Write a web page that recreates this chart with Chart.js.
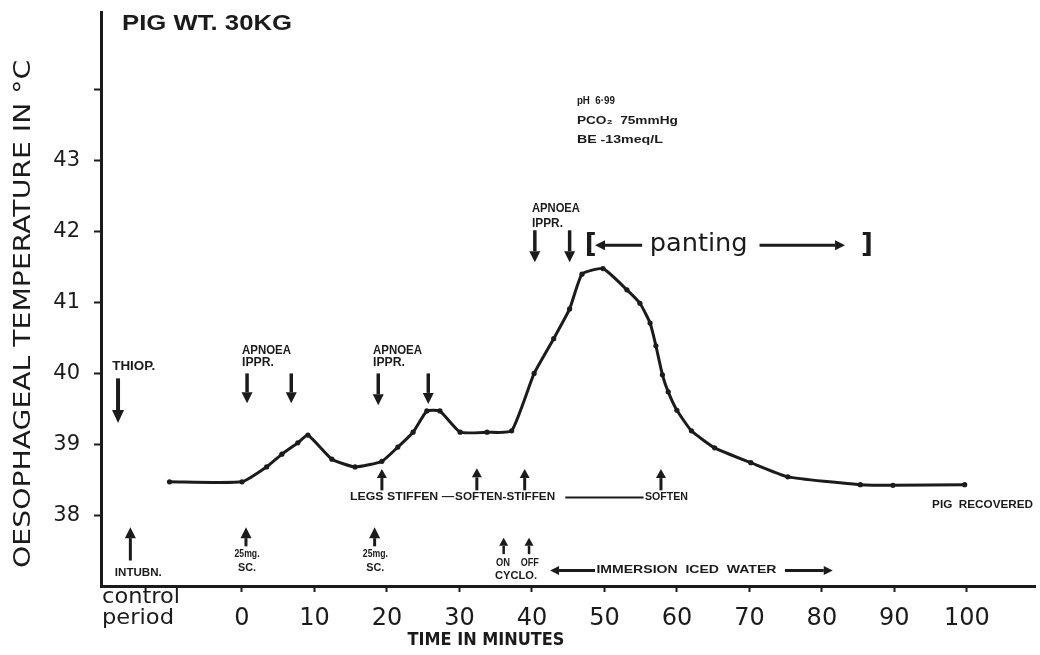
<!DOCTYPE html>
<html>
<head>
<meta charset="utf-8">
<script src="https://cdn.jsdelivr.net/npm/chart.js@4.4.1/dist/chart.umd.min.js"></script>
<style>
  html, body { margin: 0; padding: 0; background: #ffffff; }
  #wrap { width: 1040px; height: 655px; }
</style>
</head>
<body>
<div id="wrap"><canvas id="chart" width="1040" height="655"></canvas></div>
<script>
// Oesophageal temperature of a 30 kg pig, minutes after the first dose
const minutes = [-10, 0, 3.4, 5.5, 7.7, 9.1, 12.4, 15.6, 19.3, 21.5, 23.6, 25.5, 27.3, 30.1, 33.8, 37.2,
                 40.3, 43.0, 45.2, 46.9, 49.8, 53.1, 54.9, 56.3, 57.1, 58.0, 58.8, 60.0, 62.0, 65.2,
                 70.2, 75.3, 85.3, 89.8, 99.7];
const oesoTempC = [38.47, 38.47, 38.68, 38.86, 39.02, 39.13, 38.79, 38.68, 38.76, 38.96, 39.17, 39.47, 39.47, 39.17, 39.17, 39.19,
                   40.00, 40.49, 40.91, 41.40, 41.48, 41.18, 40.99, 40.71, 40.39, 39.98, 39.74, 39.48, 39.19, 38.95,
                   38.74, 38.54, 38.43, 38.42, 38.43];
const xTickValues = [0, 10, 20, 30, 40, 50, 60, 70, 80, 90, 100];
const yTickValues = [38, 39, 40, 41, 42, 43, 44];
const yTickLabels = ['38', '39', '40', '41', '42', '43', ''];

const INK = '#1b1b1b';

function drawLabel(ctx, str, x, y, o) {
  const size = o.size || 10;
  const weight = o.weight || 'bold';
  const family = o.family || 'Liberation Sans';
  ctx.font = weight + ' ' + size + 'px "' + family + '"';
  const natural = ctx.measureText(str).width;
  const sx = o.width ? o.width / natural : 1;
  ctx.save();
  ctx.translate(x, y);
  if (o.rotate) ctx.rotate(o.rotate);
  ctx.scale(sx, 1);
  ctx.textBaseline = 'middle';
  ctx.textAlign = o.align || 'left';
  ctx.fillText(str, 0, 0);
  ctx.restore();
}

function drawArrow(ctx, x1, y1, x2, y2, lw, headLen, headHalf) {
  const a = Math.atan2(y2 - y1, x2 - x1);
  const bx = x2 - headLen * Math.cos(a), by = y2 - headLen * Math.sin(a);
  ctx.lineWidth = lw;
  ctx.lineCap = 'butt';
  ctx.beginPath(); ctx.moveTo(x1, y1); ctx.lineTo(bx, by); ctx.stroke();
  ctx.beginPath();
  ctx.moveTo(x2, y2);
  ctx.lineTo(bx + headHalf * Math.sin(a), by - headHalf * Math.cos(a));
  ctx.lineTo(bx - headHalf * Math.sin(a), by + headHalf * Math.cos(a));
  ctx.closePath(); ctx.fill();
}

// Text notes placed in (minutes, °C) units
const notes = [
  { t: -16.55, v: 44.93, text: 'PIG WT. 30KG', size: 22, width: 170 },
  { t: -17.9, v: 40.09, text: 'THIOP.', size: 12, width: 43 },
  { t: 0.0, v: 40.33, text: 'APNOEA', size: 13, width: 49 },
  { t: 0.0, v: 40.15, text: 'IPPR.', size: 13, width: 32 },
  { t: 18.07, v: 40.33, text: 'APNOEA', size: 13, width: 49 },
  { t: 18.07, v: 40.15, text: 'IPPR.', size: 13, width: 32 },
  { t: 40.0, v: 42.33, text: 'APNOEA', size: 13, width: 48 },
  { t: 40.0, v: 42.12, text: 'IPPR.', size: 13, width: 31 },
  { t: 46.2, v: 43.85, text: 'pH  6·99', size: 11, width: 38 },
  { t: 46.2, v: 43.56, text: 'PCO₂  75mmHg', size: 11, width: 101 },
  { t: 46.2, v: 43.29, text: 'BE -13meq/L', size: 11, width: 86 },
  { t: 47.3, v: 41.81, text: '[', size: 26, weight: 'bold', family: 'DejaVu Sans' },
  { t: 63.0, v: 41.81, text: 'panting', size: 24, weight: 'normal', family: 'DejaVu Sans', width: 98, align: 'center' },
  { t: 85.4, v: 41.81, text: ']', size: 26, weight: 'bold', family: 'DejaVu Sans' },
  { t: 14.9, v: 38.25, text: 'LEGS STIFFEN —', size: 10, width: 104 },
  { t: 29.4, v: 38.25, text: 'SOFTEN-STIFFEN', size: 10, width: 100 },
  { t: 55.6, v: 38.25, text: 'SOFTEN', size: 10, width: 43 },
  { t: -14.3, v: 37.18, text: 'INTUBN.', size: 10, width: 47, align: 'center' },
  { t: 0.7, v: 37.45, text: '25mg.', size: 10, width: 25, align: 'center' },
  { t: 0.7, v: 37.25, text: 'SC.', size: 10, width: 18, align: 'center' },
  { t: 18.4, v: 37.45, text: '25mg.', size: 10, width: 25, align: 'center' },
  { t: 18.4, v: 37.25, text: 'SC.', size: 10, width: 18, align: 'center' },
  { t: 36.0, v: 37.32, text: 'ON', size: 10, width: 14, align: 'center' },
  { t: 39.7, v: 37.32, text: 'OFF', size: 10, width: 18, align: 'center' },
  { t: 37.8, v: 37.14, text: 'CYCLO.', size: 10, width: 42, align: 'center' },
  { t: 48.9, v: 37.22, text: 'IMMERSION  ICED  WATER', size: 10, width: 180 },
  { t: 95.2, v: 38.14, text: 'PIG  RECOVERED', size: 10, width: 101 },
  { t: -19.31, v: 36.84, text: 'control', size: 22, weight: 'normal', family: 'DejaVu Sans', width: 78 },
  { t: -19.31, v: 36.55, text: 'period', size: 22, weight: 'normal', family: 'DejaVu Sans', width: 72 },
  { t: 33.66, v: 36.235, text: 'TIME IN MINUTES', size: 17, weight: 'bold', family: 'DejaVu Sans', width: 157, align: 'center' }
];

// Arrows: tail (t1, v1) to head (t2, v2)
const arrows = [
  { t1: -17.1, v1: 39.93, t2: -17.1, v2: 39.30, lw: 4, head: 13, half: 6 },
  { t1: 0.7, v1: 40.00, t2: 0.7, v2: 39.58, lw: 3.5, head: 11, half: 5.5 },
  { t1: 6.8, v1: 40.00, t2: 6.8, v2: 39.58, lw: 3.5, head: 11, half: 5.5 },
  { t1: 18.8, v1: 40.00, t2: 18.8, v2: 39.55, lw: 3.5, head: 11, half: 5.5 },
  { t1: 25.7, v1: 40.00, t2: 25.7, v2: 39.57, lw: 3.5, head: 11, half: 5.5 },
  { t1: 40.4, v1: 42.02, t2: 40.4, v2: 41.57, lw: 3.5, head: 11, half: 5.5 },
  { t1: 45.2, v1: 42.02, t2: 45.2, v2: 41.57, lw: 3.5, head: 11, half: 5.5 },
  { t1: 55.2, v1: 41.81, t2: 48.7, v2: 41.81, lw: 3, head: 10, half: 5 },
  { t1: 71.4, v1: 41.81, t2: 83.2, v2: 41.81, lw: 3, head: 10, half: 5 },
  { t1: 19.3, v1: 38.35, t2: 19.3, v2: 38.65, lw: 3, head: 9, half: 5 },
  { t1: 32.4, v1: 38.35, t2: 32.4, v2: 38.66, lw: 3, head: 9, half: 5 },
  { t1: 39.0, v1: 38.35, t2: 39.0, v2: 38.65, lw: 3, head: 9, half: 5 },
  { t1: 57.8, v1: 38.35, t2: 57.8, v2: 38.65, lw: 3, head: 9, half: 5 },
  { t1: -15.4, v1: 37.36, t2: -15.4, v2: 37.83, lw: 3, head: 11, half: 5.5 },
  { t1: 0.55, v1: 37.56, t2: 0.55, v2: 37.83, lw: 3, head: 11, half: 5.5 },
  { t1: 18.3, v1: 37.56, t2: 18.3, v2: 37.83, lw: 3, head: 11, half: 5.5 },
  { t1: 36.1, v1: 37.45, t2: 36.1, v2: 37.68, lw: 2.5, head: 8, half: 4.5 },
  { t1: 39.6, v1: 37.45, t2: 39.6, v2: 37.68, lw: 2.5, head: 8, half: 4.5 },
  { t1: 48.7, v1: 37.22, t2: 42.5, v2: 37.22, lw: 3, head: 9, half: 4.5 },
  { t1: 74.9, v1: 37.22, t2: 81.5, v2: 37.22, lw: 3, head: 9, half: 4.5 }
];

// Plain rules (the dash in the LEGS row)
const rules = [
  { t1: 44.6, t2: 55.4, v: 38.25, lw: 2 }
];

const fieldNotes = {
  id: 'fieldNotes',
  afterDraw(chart) {
    const { ctx, scales: { x, y } } = chart;
    const X = t => x.getPixelForValue(t), Y = v => y.getPixelForValue(v);
    ctx.save();
    ctx.fillStyle = INK;
    ctx.strokeStyle = INK;
    notes.forEach(n => drawLabel(ctx, n.text, X(n.t), Y(n.v), n));
    arrows.forEach(a => drawArrow(ctx, X(a.t1), Y(a.v1), X(a.t2), Y(a.v2), a.lw, a.head, a.half));
    rules.forEach(r => {
      ctx.lineWidth = r.lw;
      ctx.beginPath(); ctx.moveTo(X(r.t1), Y(r.v)); ctx.lineTo(X(r.t2), Y(r.v)); ctx.stroke();
    });
    // vertical axis title
    drawLabel(ctx, 'OESOPHAGEAL TEMPERATURE IN °C', 24, Y(40.84),
      { size: 23, weight: 'normal', family: 'DejaVu Sans', width: 508, align: 'center', rotate: -Math.PI / 2 });
    ctx.restore();
  }
};

new Chart(document.getElementById('chart'), {
  type: 'line',
  data: {
    datasets: [{
      data: minutes.map((t, i) => ({ x: t, y: oesoTempC[i] })),
      borderColor: INK,
      borderWidth: 3,
      pointRadius: 2.6,
      pointBackgroundColor: INK,
      pointBorderWidth: 0,
      tension: 0.15,
      fill: false
    }]
  },
  options: {
    responsive: false,
    animation: false,
    devicePixelRatio: 1,
    layout: { padding: { top: 12, right: 5, left: 0, bottom: 0 } },
    plugins: { legend: { display: false }, tooltip: { enabled: false } },
    scales: {
      x: {
        type: 'linear',
        min: -19.45,
        max: 109.4,
        afterBuildTicks: s => { s.ticks = xTickValues.map(v => ({ value: v })); },
        afterFit: s => { s.height = 69; s.paddingLeft = 0; s.paddingRight = 0; },
        grid: { drawOnChartArea: false, drawTicks: true, tickLength: 6, tickWidth: 2, tickColor: INK },
        border: { color: INK, width: 3 },
        ticks: {
          color: INK,
          font: { family: 'DejaVu Sans', size: 24 },
          padding: 12,
          maxRotation: 0,
          autoSkip: false,
          callback: v => String(v)
        }
      },
      y: {
        min: 37,
        max: 45.1,
        afterBuildTicks: s => { s.ticks = yTickValues.map(v => ({ value: v })); },
        afterFit: s => { s.width = 101; s.paddingTop = 0; s.paddingBottom = 0; },
        grid: { drawOnChartArea: false, drawTicks: true, tickLength: 7, tickWidth: 2, tickColor: INK },
        border: { color: INK, width: 3 },
        ticks: {
          color: INK,
          font: { family: 'DejaVu Sans', size: 21 },
          padding: 14,
          callback: (v, i) => yTickLabels[i]
        }
      }
    }
  },
  plugins: [fieldNotes]
});
</script>
</body>
</html>
